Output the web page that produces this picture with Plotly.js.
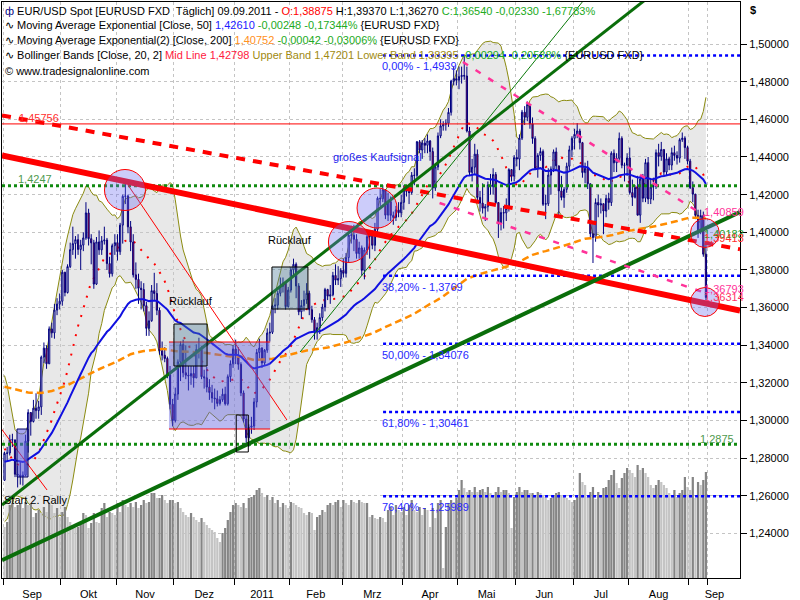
<!DOCTYPE html>
<html><head><meta charset="utf-8">
<script src="https://cdn.plot.ly/plotly-3.0.1.min.js"></script>
<style>html,body{margin:0;padding:0;background:#fff}#chart{width:800px;height:600px}</style>
</head><body><div id="chart"></div>
<script>
// ---------- DATA ----------
const monthLabels = ['Sep','Okt','Nov','Dez','2011','Feb','Mrz','Apr','Mai','Jun','Jul','Aug','Sep'];
const monthDays   = [22,21,22,23,21,20,23,21,22,22,21,23,7];
const priorClose  = [1.3190,1.3225,1.3200,1.3185,1.3278,1.3215,1.3145,1.2900,1.2820,1.2750,1.2845,1.2880,1.2850,1.2820,1.2705,1.2660,1.2620,1.2665,1.2730,1.2757,1.2685,1.2683];
const close = [
 1.2826,1.2828,1.2899,1.2897,1.2715,1.2711,1.2703,1.2710,1.2891,1.3043,1.2995,1.3066,1.3053,1.3073,1.3337,1.3385,1.3302,1.3487,1.3466,1.3587,1.3619,1.3634,
 1.3788,1.3680,1.3818,1.3908,1.3940,1.3961,1.3909,1.3932,1.3970,1.4103,1.3966,1.3944,1.3725,1.3949,1.3907,1.3955,1.3959,1.3834,1.3780,1.3929,1.3945,
 1.3897,1.4038,1.4191,1.4193,1.4029,1.3948,1.3774,1.3750,1.3703,1.3696,1.3610,1.3490,1.3530,1.3690,1.3675,1.3586,1.3371,1.3347,1.3330,1.3243,1.3087,1.3000,
 1.3141,1.3312,1.3404,1.3254,1.3241,1.3237,1.3250,1.3227,1.3377,1.3378,1.3233,1.3227,1.3178,1.3149,1.3120,1.3116,1.3091,1.3111,1.3140,1.3089,1.3233,1.3302,1.3380,
 1.3347,1.3299,1.3147,1.3008,1.2909,1.2965,1.2971,1.3099,1.3362,1.3385,1.3306,1.3374,1.3465,1.3469,1.3608,1.3613,1.3676,1.3713,1.3730,1.3605,1.3693,
 1.3801,1.3830,1.3715,1.3578,1.3611,1.3642,1.3676,1.3589,1.3536,1.3475,1.3494,1.3547,1.3603,1.3696,1.3661,1.3668,1.3771,1.3746,1.3754,1.3798,
 1.3782,1.3866,1.3985,1.3985,1.3963,1.3887,1.3917,1.3798,1.3906,1.3977,1.3993,1.3931,1.4016,1.4181,1.4178,1.4226,1.4091,1.4163,1.4090,1.4079,1.4119,1.4104,1.4159,
 1.4231,1.4217,1.4211,1.4303,1.4302,1.4481,1.4437,1.4474,1.4462,1.4485,1.4429,1.4235,1.4347,1.4512,1.4565,1.4573,1.4579,1.4637,1.4803,1.4816,1.4808,
 1.4827,1.4833,1.4830,1.4538,1.4318,1.4346,1.4415,1.4185,1.4155,1.4128,1.4136,1.4252,1.4242,1.4307,1.4158,1.4045,1.4105,1.4103,1.4127,1.4333,1.4298,1.4397,
 1.4389,1.4500,1.4638,1.4611,1.4679,1.4576,1.4498,1.4339,1.4408,1.4429,1.4149,1.4152,1.4304,1.4336,1.4427,1.4353,1.4220,1.4185,1.4228,1.4351,1.4438,1.4499,
 1.4520,1.4538,1.4476,1.4317,1.4340,1.4258,1.3992,1.3972,1.4158,1.4145,1.4152,1.4113,1.4180,1.4158,1.4420,1.4369,1.4393,1.4499,1.4356,1.4357,1.4395,
 1.4211,1.4186,1.4238,1.4091,1.4283,1.4181,1.4370,1.4177,1.4240,1.4244,1.4423,1.4403,1.4440,1.4320,1.4390,1.4357,1.4423,1.4408,1.4394,1.4492,1.4500,1.4450,1.4378,
 1.4237,1.4203,1.4090,1.4005,1.4089,1.3884,1.3654];
const high = [
 1.2835,1.2860,1.2925,1.2930,1.2900,1.2760,1.2780,1.2730,1.2925,1.3060,1.3045,1.3110,1.3145,1.3105,1.3345,1.3415,1.3400,1.3500,1.3520,1.3620,1.3650,1.3675,
 1.3800,1.3790,1.3830,1.3945,1.4030,1.3980,1.3990,1.3960,1.4000,1.4160,1.4125,1.3990,1.3960,1.3975,1.4010,1.3980,1.4030,1.3970,1.3870,1.3940,1.3990,
 1.3990,1.4050,1.4200,1.4282,1.4200,1.4060,1.3990,1.3840,1.3780,1.3740,1.3730,1.3630,1.3580,1.3720,1.3785,1.3730,1.3600,1.3420,1.3390,1.3340,1.3290,1.3115,
 1.3175,1.3325,1.3420,1.3430,1.3400,1.3290,1.3290,1.3290,1.3405,1.3440,1.3395,1.3270,1.3285,1.3220,1.3190,1.3170,1.3160,1.3130,1.3170,1.3180,1.3245,1.3320,1.3400,
 1.3430,1.3390,1.3310,1.3160,1.3030,1.2980,1.3020,1.3120,1.3380,1.3435,1.3390,1.3380,1.3490,1.3520,1.3615,1.3650,1.3690,1.3760,1.3760,1.3740,1.3710,
 1.3815,1.3860,1.3840,1.3730,1.3640,1.3690,1.3730,1.3690,1.3610,1.3550,1.3520,1.3570,1.3620,1.3705,1.3700,1.3720,1.3790,1.3830,1.3820,1.3810,
 1.3860,1.3890,1.4000,1.4035,1.4040,1.3990,1.3950,1.3930,1.3920,1.4000,1.4010,1.4010,1.4050,1.4190,1.4230,1.4250,1.4220,1.4210,1.4190,1.4110,1.4140,1.4160,1.4200,
 1.4250,1.4250,1.4250,1.4320,1.4340,1.4485,1.4490,1.4490,1.4500,1.4520,1.4490,1.4450,1.4360,1.4530,1.4600,1.4590,1.4600,1.4660,1.4810,1.4880,1.4860,
 1.4880,1.4880,1.4939,1.4880,1.4560,1.4390,1.4470,1.4440,1.4220,1.4260,1.4150,1.4270,1.4310,1.4340,1.4320,1.4150,1.4130,1.4140,1.4180,1.4340,1.4330,1.4410,
 1.4440,1.4520,1.4650,1.4670,1.4695,1.4680,1.4610,1.4510,1.4420,1.4450,1.4440,1.4200,1.4340,1.4350,1.4440,1.4450,1.4350,1.4300,1.4240,1.4370,1.4460,1.4510,
 1.4550,1.4580,1.4550,1.4480,1.4370,1.4380,1.4250,1.4060,1.4180,1.4200,1.4180,1.4150,1.4200,1.4210,1.4430,1.4440,1.4420,1.4530,1.4510,1.4370,1.4420,
 1.4450,1.4280,1.4250,1.4300,1.4300,1.4310,1.4390,1.4400,1.4280,1.4290,1.4440,1.4470,1.4480,1.4440,1.4420,1.4400,1.4450,1.4460,1.4430,1.4500,1.4530,1.4510,1.4460,
 1.4390,1.4270,1.4160,1.4120,1.4120,1.4110,1.3937];
const low = [
 1.2680,1.2790,1.2815,1.2860,1.2700,1.2645,1.2660,1.2655,1.2705,1.2830,1.2920,1.2990,1.3010,1.3010,1.3030,1.3305,1.3275,1.3300,1.3440,1.3435,1.3560,1.3590,
 1.3610,1.3660,1.3675,1.3810,1.3880,1.3860,1.3880,1.3800,1.3900,1.3960,1.3930,1.3830,1.3700,1.3720,1.3880,1.3880,1.3935,1.3800,1.3760,1.3765,1.3880,
 1.3850,1.3880,1.3940,1.4150,1.3995,1.3900,1.3760,1.3700,1.3620,1.3590,1.3580,1.3450,1.3450,1.3525,1.3640,1.3560,1.3350,1.3320,1.3310,1.3225,1.3060,1.2970,
 1.2990,1.3110,1.3210,1.3230,1.3220,1.3160,1.3190,1.3175,1.3225,1.3330,1.3220,1.3170,1.3150,1.3110,1.3095,1.3060,1.3075,1.3080,1.3100,1.3080,1.3080,1.3205,1.3280,
 1.3300,1.3270,1.3130,1.2990,1.2875,1.2861,1.2930,1.2950,1.3070,1.3330,1.3280,1.3290,1.3360,1.3420,1.3460,1.3570,1.3590,1.3660,1.3680,1.3590,1.3600,
 1.3680,1.3770,1.3650,1.3560,1.3540,1.3580,1.3620,1.3560,1.3520,1.3430,1.3430,1.3460,1.3530,1.3580,1.3640,1.3620,1.3660,1.3720,1.3720,1.3710,
 1.3760,1.3760,1.3840,1.3940,1.3900,1.3860,1.3860,1.3770,1.3750,1.3880,1.3860,1.3910,1.3900,1.4000,1.4140,1.4160,1.4070,1.4060,1.4060,1.4040,1.4060,1.4080,1.4080,
 1.4120,1.4190,1.4150,1.4200,1.4250,1.4290,1.4420,1.4390,1.4420,1.4420,1.4380,1.4180,1.4220,1.4330,1.4500,1.4540,1.4540,1.4560,1.4620,1.4780,1.4780,
 1.4760,1.4790,1.4810,1.4530,1.4300,1.4270,1.4310,1.4170,1.4110,1.4100,1.4060,1.4110,1.4200,1.4200,1.4150,1.3970,1.4010,1.4020,1.4060,1.4110,1.4270,1.4270,
 1.4350,1.4330,1.4490,1.4570,1.4590,1.4550,1.4470,1.4330,1.4290,1.4380,1.4140,1.4070,1.4140,1.4200,1.4320,1.4330,1.4090,1.4170,1.4130,1.4210,1.4330,1.4400,
 1.4440,1.4500,1.4440,1.4290,1.4260,1.4230,1.3970,1.3837,1.3950,1.4080,1.4100,1.3990,1.4080,1.4120,1.4140,1.4320,1.4320,1.4380,1.4340,1.4270,1.4300,
 1.4200,1.4140,1.4180,1.4090,1.4050,1.4160,1.4160,1.4150,1.4150,1.4170,1.4230,1.4350,1.4380,1.4300,1.4300,1.4330,1.4330,1.4380,1.4360,1.4370,1.4480,1.4390,1.4360,
 1.4230,1.4160,1.4070,1.3970,1.3990,1.3870,1.3627];
const volume = [
 51,56,73,75,71,73,75,70,76,73,75,61,65,68,65,71,66,75,73,65,70,61,
 66,71,61,56,53,50,51,56,65,63,50,55,65,56,55,70,75,61,66,65,63,
 75,66,78,73,71,75,71,76,70,73,78,75,76,85,85,80,80,83,78,75,78,78,
 75,76,70,66,63,61,65,61,58,56,60,56,53,50,48,46,40,36,45,50,58,66,73,
 75,73,71,75,70,80,81,83,88,90,85,81,83,78,81,75,78,71,75,73,70,
 76,75,73,71,70,65,63,66,65,48,61,63,68,66,73,75,73,76,78,71,
 78,75,73,78,76,75,78,76,75,75,61,63,60,59,61,60,56,68,71,63,73,68,66,
 71,63,73,78,68,66,71,63,70,68,51,70,60,75,78,10,51,75,78,76,80,
 88,98,90,86,88,86,91,86,88,89,86,91,85,83,86,91,86,88,88,85,50,81,
 86,91,86,88,88,85,85,83,86,85,83,81,78,80,83,85,86,83,81,80,78,76,
 78,81,105,96,93,81,86,91,79,86,83,90,91,98,103,108,95,90,100,105,110,
 108,105,101,113,108,110,105,101,93,90,93,98,96,93,90,85,83,88,81,85,88,101,91,
 88,101,80,96,93,98,106];
const ema50Start = 1.2782, ema200Start = 1.3180;
const priceTicks = [1.24,1.26,1.28,1.30,1.32,1.34,1.36,1.38,1.40,1.42,1.44,1.46,1.48,1.50];
const fibLevels = [1.4939,1.3769,1.34076,1.30461,1.25989];
const fibLabels = ['0,00% - 1,4939','38,20% - 1,3769','50,00% - 1,34076','61,80% - 1,30461','76,40% - 1,25989'];
const hLevelRed = 1.45756, hLevelGreenHi = 1.4247, hLevelGreenLo = 1.2875;

// ---------- DERIVED ----------
const N = close.length;
const idx = close.map((_, i) => i);
const open = close.map((c, i) => i === 0 ? priorClose[priorClose.length - 1] : close[i - 1]);
const hi = high.map((h, i) => Math.max(h, open[i], close[i]));
const lo = low.map((l, i) => Math.min(l, open[i], close[i]));
function ema(src, start, n) { const k = 2 / (n + 1); const o = [start]; for (let i = 1; i < src.length; i++) o.push(o[i - 1] + k * (src[i] - o[i - 1])); return o; }
const ema50 = ema(close, ema50Start, 50), ema200 = ema(close, ema200Start, 200);
const all = priorClose.concat(close), off = priorClose.length;
const mid = [], up = [], dn = [];
for (let i = 0; i < N; i++) {
  const w = all.slice(i + off - 19, i + off + 1);
  const m = w.reduce((a, b) => a + b, 0) / w.length;
  const sd = Math.sqrt(w.reduce((a, b) => a + (b - m) * (b - m), 0) / w.length);
  mid.push(m); up.push(m + 2 * sd); dn.push(m - 2 * sd);
}
const volColors = volume.map((v, i) => (i > 0 && v >= volume[i - 1]) ? '#858585' : '#c4c4c4');
const bounds = [-0.5]; monthDays.forEach(d => bounds.push(bounds[bounds.length - 1] + d));
const XR = [-0.957, 279.97], YR = [1.21641, 1.52231];
const tickMids = monthLabels.map((_, i) => (Math.max(bounds[i], XR[0]) + Math.min(bounds[i + 1], XR[1])) / 2);
// extend last month to axis end for label centering
tickMids[tickMids.length - 1] = (bounds[monthLabels.length - 1] + XR[1]) / 2;

// ---------- TRACES ----------
const F = 'Liberation Sans, Arial, sans-serif';
const traces = [
  {x: idx, y: up, type: 'scatter', mode: 'lines', line: {color: '#8b8b10', width: 1}, hoverinfo: 'skip'},
  {x: idx, y: dn, type: 'scatter', mode: 'lines', line: {color: '#8b8b10', width: 1}, fill: 'tonexty', fillcolor: 'rgba(200,200,200,0.42)', hoverinfo: 'skip'},
  {x: idx, y: mid, type: 'scatter', mode: 'lines', line: {color: '#ff0000', width: 2, dash: '2px,8px'}, hoverinfo: 'skip'},
  {x: idx, y: volume, type: 'bar', yaxis: 'y2', width: 0.85, marker: {color: volColors, line: {width: 0}}, hoverinfo: 'skip'},
  {x: idx, open: open, high: hi, low: lo, close: close, type: 'candlestick', yaxis: 'y3',
   increasing: {line: {color: '#000080', width: 1}, fillcolor: '#ffffff'},
   decreasing: {line: {color: '#000080', width: 1}, fillcolor: '#ff0000'}, hoverinfo: 'skip'},
  {x: idx, y: ema200, type: 'scatter', mode: 'lines', yaxis: 'y3', line: {color: '#ff8c00', width: 2.5, dash: '7px,4px'}, hoverinfo: 'skip'},
  {x: idx, y: ema50, type: 'scatter', mode: 'lines', yaxis: 'y3', line: {color: '#1010e0', width: 2}, hoverinfo: 'skip'}
];

// ---------- DRAWINGS ----------
const shapes = [];
function L(x0, y0, x1, y1, color, width, dash) { shapes.push({type: 'line', xref: 'x', yref: 'y', x0, y0, x1, y1, layer: 'above', line: {color, width, dash: dash || 'solid'}}); }
function R(x0, x1, y0, y1, fill, lineColor, lw) { shapes.push({type: 'rect', xref: 'x', yref: 'y', x0, x1, y0, y1, layer: 'above', fillcolor: fill, line: {color: lineColor || 'rgba(0,0,0,0)', width: lw || 0}}); }
function C(cx, cy, rx, ry) { shapes.push({type: 'circle', xref: 'x', yref: 'y', x0: cx - rx, x1: cx + rx, y0: cy - ry, y1: cy + ry, layer: 'above', fillcolor: 'rgba(110,110,240,0.35)', line: {color: '#ff0000', width: 1}}); }

// horizontal levels
L(XR[0], hLevelRed, XR[1], hLevelRed, '#ff0000', 1);
L(XR[0], hLevelGreenHi, XR[1], hLevelGreenHi, '#108a10', 3, '3px,3px');
L(XR[0], hLevelGreenLo, XR[1], hLevelGreenLo, '#108a10', 3, '3px,3px');
fibLevels.forEach(v => L(144.1, v, XR[1], v, '#0000ff', 2.5, '3px,3px'));
// trend lines
L(-0.957, 1.46208, XR[1], 1.3910, '#ff0000', 4, '9px,8px');
L(-0.957, 1.44084, XR[1], 1.35847, '#ff0000', 6);
L(-0.957, 1.22592, XR[1], 1.41078, '#0a6e0a', 4);
L(-0.957, 1.25518, XR[1], 1.56298, '#0a6e0a', 3);
L(112.5, 1.33643, 226.7, 1.5340, '#0a7a0a', 1);
L(47.0, 1.42512, 107.5, 1.30032, '#ff0000', 1);
L(-1.72, 1.29660, 16.2, 1.26314, '#ff0000', 1);
L(174.5, 1.49044, 266.6, 1.40859, '#ff3399', 2.5, '6px,9px');
L(165.6, 1.41556, 266.6, 1.36793, '#ff3399', 2.5, '6px,9px');
// boxes
R(62.6, 101.1, 1.29554, 1.34174, 'rgba(90,90,225,0.42)');
L(62.6, 1.34174, 101.1, 1.34174, '#ff0000', 1);
L(62.6, 1.29554, 101.1, 1.29554, '#ff0000', 1);
R(64.5, 77.1, 1.32900, 1.35130, 'rgba(70,120,150,0.38)', '#000000', 1);
R(101.8, 115.5, 1.35927, 1.38157, 'rgba(70,120,150,0.38)', '#000000', 1);
R(88.2, 92.8, 1.28333, 1.30297, 'rgba(0,0,0,0)', '#000000', 1);
R(4.75, 8.94, 1.27005, 1.29554, 'rgba(90,90,225,0.55)', '#000060', 1);
// circles
C(45.86, 1.42247, 7.8, 0.01089);
C(131.1, 1.39485, 7.8, 0.01089);
C(141.8, 1.41291, 7.6, 0.01062);
C(266.6, 1.39963, 5.5, 0.0077);
C(266.6, 1.36298, 5.5, 0.0077);

// ---------- TEXT ----------
const P = (px, py) => ({x: (px - 2) / 738, y: 1 - (py - 2) / 576});
const anns = [];
function A(px, py, text, color, xanchor, size) { const p = P(px, py); anns.push({xref: 'paper', yref: 'paper', x: p.x, y: p.y, xanchor: xanchor || 'left', yanchor: 'middle', text, showarrow: false, font: {family: F, size: size || 11, color: color || '#000'}}); }
const G = '#22aa22';
A(3, 11, '<span style="color:#000080">ф</span> EUR/USD Spot [EURUSD FXD  Täglich] 09.09.2011 - <span style="color:#ff0000">O:1,38875</span> H:1,39370 L:1,36270 <span style="color:' + G + '">C:1,36540 -0,02330 -1,67783%</span>');
A(3, 25, '∿ Moving Average Exponential [Close, 50] <span style="color:#2020ff">1,42610</span> <span style="color:' + G + '">-0,00248 -0,17344%</span> {EURUSD FXD}');
A(3, 40, '∿ Moving Average Exponential(2) [Close, 200] <span style="color:#ff9020">1,40752</span> <span style="color:' + G + '">-0,00042 -0,03006%</span> {EURUSD FXD}');
A(3, 55, '∿ Bollinger Bands [Close, 20, 2] <span style="color:#ff2040">Mid Line 1,42798</span> <span style="color:#a08a10">Upper Band 1,47201 Lower Band 1,38395</span> <span style="color:' + G + '">-0,00294 -0,20538%</span> {EURUSD FXD}');
A(3, 71, '© www.tradesignalonline.com');
A(17, 118, '1,45756', '#ff3030');
A(16, 179, '1,4247', '#4f9a4f');
A(736, 439, '1,2875', '#4f9a4f', 'right');
fibLabels.forEach((t, i) => { const py = 44 + (1.5 - fibLevels[i]) * 1883; A(380, py + 11, t, '#2828ff'); });
A(377, 157, 'großes Kaufsignal', '#1a1aee', 'center');
A(191, 301, 'Rücklauf', '#000', 'center');
A(290, 240, 'Rücklauf', '#000', 'center');
A(35, 500, 'Start 2. Rally', '#000', 'center');
A(702, 212, '1,40859', '#ff3399');
A(702, 234, '1,40183', '#2a9a2a');
A(702, 238, '1,39413', '#ff3030');
A(702, 289, '1,36793', '#ff3399');
A(702, 297, '1,36314', '#ff3366');
anns.push({xref: 'paper', yref: 'paper', x: (748 - 2) / 738, y: P(0, 10).y, xanchor: 'left', yanchor: 'middle', text: '<b>$</b>', showarrow: false, font: {family: F, size: 11, color: '#000'}});

const layout = {
  width: 800, height: 600, margin: {l: 2, r: 60, t: 2, b: 22},
  paper_bgcolor: '#ffffff', plot_bgcolor: '#ffffff', showlegend: false, hovermode: false,
  separators: ',.', boxgap: 0.35,
  font: {family: F, size: 11, color: '#000'},
  xaxis: {type: 'linear', range: XR, tickmode: 'array', tickvals: tickMids, ticktext: monthLabels,
    ticks: 'outside', ticklen: 6, tickcolor: 'rgba(0,0,0,0)', showgrid: false, zeroline: false,
    showline: true, linecolor: '#000', linewidth: 1, mirror: true, rangeslider: {visible: false},
    tickfont: {family: F, size: 11, color: '#000'},
    minor: {tickmode: 'array', tickvals: bounds, ticks: 'outside', ticklen: 6, tickcolor: '#000', tickwidth: 1,
      showgrid: true, gridcolor: '#c4c4c4', griddash: 'dot', gridwidth: 1}},
  yaxis: {range: YR, side: 'right', tickmode: 'array', tickvals: priceTicks, tickformat: '.5f',
    ticks: 'outside', ticklen: 6, tickcolor: '#000', showgrid: true, gridcolor: '#c4c4c4', griddash: 'dot',
    zeroline: false, showline: true, linecolor: '#000', linewidth: 1, mirror: true,
    tickfont: {family: F, size: 11, color: '#000'}},
  yaxis2: {overlaying: 'y', range: [0, 576], visible: false, showgrid: false, zeroline: false},
  yaxis3: {overlaying: 'y', range: YR, visible: false, showgrid: false, zeroline: false},
  shapes: shapes, annotations: anns
};
Plotly.newPlot('chart', traces, layout, {displayModeBar: false, staticPlot: true});
</script></body></html>
